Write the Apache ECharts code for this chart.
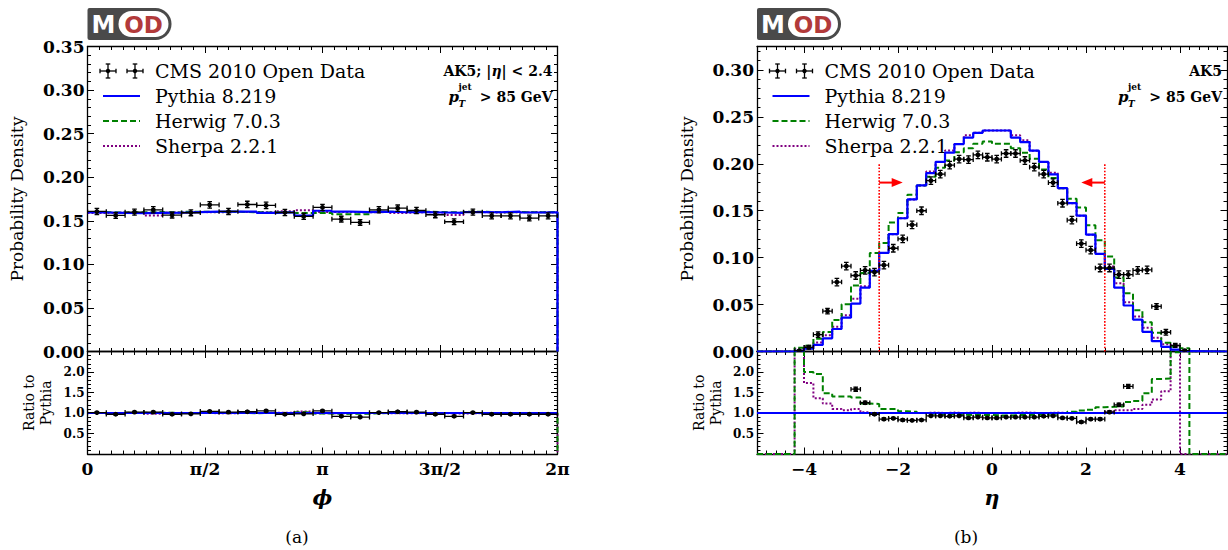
<!DOCTYPE html>
<html><head><meta charset="utf-8">
<script src="https://cdn.jsdelivr.net/npm/echarts@6/dist/echarts.min.js"></script>
<style>html,body{margin:0;padding:0;background:#fff}#c{width:1228px;height:550px}</style>
</head><body><div id="c"></div>
<script>
// ---------------- DATA ----------------
const phiTickLabels = ['0', 'π/2', 'π', '3π/2', '2π'];
const etaTickValues = [-4, -2, 0, 2, 4];

// phi distribution: 25 bins over [0, 2π]
const phiData    = [0.1607,0.1561,0.1599,0.1626,0.1565,0.1592,0.1683,0.1607,0.1687,0.1676,0.1595,0.1550,0.1653,0.1519,0.1481,0.1626,0.1645,0.1618,0.1569,0.1489,0.1599,0.1557,0.1557,0.1531,0.1557];
const phiDataErr = [0.0035,0.0033,0.0035,0.0036,0.0033,0.0034,0.0038,0.0035,0.0037,0.0037,0.0035,0.0034,0.0036,0.0033,0.0032,0.0036,0.0036,0.0035,0.0034,0.0033,0.0035,0.0034,0.0034,0.0033,0.0034];
const phiPythia  = [0.1595,0.1590,0.1588,0.1590,0.1592,0.1600,0.1605,0.1605,0.1605,0.1590,0.1598,0.1560,0.1615,0.1605,0.1600,0.1605,0.1598,0.1600,0.1595,0.1590,0.1600,0.1598,0.1605,0.1595,0.1598];
const phiHerwig  = [0.1600,0.1595,0.1598,0.1600,0.1595,0.1605,0.1600,0.1605,0.1598,0.1595,0.1600,0.1590,0.1590,0.1575,0.1575,0.1605,0.1600,0.1605,0.1600,0.1595,0.1605,0.1598,0.1600,0.1598,0.1600];
const phiSherpa  = [0.1590,0.1595,0.1590,0.1560,0.1595,0.1600,0.1598,0.1600,0.1600,0.1598,0.1610,0.1620,0.1600,0.1600,0.1598,0.1600,0.1590,0.1598,0.1595,0.1565,0.1600,0.1595,0.1598,0.1600,0.1595];
const phiRatioData   = [1.01,0.97,1.02,1.02,0.97,0.98,1.04,1.02,1.03,1.05,0.97,0.98,1.05,0.92,0.90,1.01,1.03,1.02,0.97,0.92,1.01,0.97,0.97,0.97,0.97];
const phiRatioErr    = [0.02,0.02,0.02,0.02,0.02,0.02,0.02,0.02,0.02,0.02,0.02,0.02,0.02,0.02,0.02,0.02,0.02,0.02,0.02,0.02,0.02,0.02,0.02,0.02,0.02];
const phiRatioHerwig = [1.003,1.003,1.006,1.006,1.002,1.003,0.997,1.000,0.996,1.003,1.001,1.019,0.985,0.981,0.984,1.000,1.001,1.003,1.003,1.003,1.003,1.000,0.997,1.002,1.001];
const phiRatioSherpa = [0.997,1.003,1.001,0.981,1.002,1.000,0.996,0.997,0.997,1.005,1.008,1.038,0.991,0.997,0.998,0.997,0.995,0.998,1.000,0.984,1.000,0.998,0.996,1.003,0.998];

// eta distribution: bins of width 0.2, centers below
const etaCenters = [-4.1,-3.9,-3.7,-3.5,-3.3,-3.1,-2.9,-2.7,-2.5,-2.3,-2.1,-1.9,-1.7,-1.5,-1.3,-1.1,-0.9,-0.7,-0.5,-0.3,-0.1,
                     0.1, 0.3, 0.5, 0.7, 0.9, 1.1, 1.3, 1.5, 1.7, 1.9, 2.1, 2.3, 2.5, 2.7, 2.9, 3.1, 3.3, 3.5, 3.7, 3.9, 4.1];
const etaData    = [0.0008,0.0045,0.018,0.043,0.074,0.091,0.081,0.0865,0.0845,0.092,0.110,0.120,0.135,0.150,0.182,0.189,0.1985,0.205,0.2045,0.2095,0.207,
                    0.205,0.211,0.211,0.2035,0.1965,0.189,0.180,0.158,0.140,0.115,0.108,0.089,0.089,0.082,0.082,0.0865,0.087,0.048,0.0205,0.0065,0.001];
const etaDataErr = [0.001,0.002,0.003,0.003,0.004,0.004,0.004,0.004,0.004,0.004,0.004,0.004,0.004,0.004,0.004,0.004,0.004,0.004,0.004,0.004,0.004,
                    0.004,0.004,0.004,0.004,0.004,0.004,0.004,0.004,0.004,0.004,0.004,0.004,0.004,0.004,0.004,0.004,0.004,0.003,0.003,0.002,0.001];
const etaPythia  = [0.0008,0.003,0.007,0.014,0.024,0.036,0.051,0.068,0.086,0.105,0.125,0.142,0.162,0.177,0.190,0.202,0.212,0.221,0.228,0.233,0.2355,
                    0.2355,0.2355,0.228,0.223,0.214,0.202,0.1887,0.174,0.158,0.1447,0.1245,0.104,0.088,0.068,0.049,0.034,0.021,0.011,0.005,0.002,0.0005];
const etaHerwig  = [0.004,0.006,0.0137,0.0207,0.0336,0.0504,0.0704,0.0836,0.1049,0.1155,0.1375,0.1477,0.1669,0.177,0.1862,0.1959,0.2035,0.2122,0.2166,0.2214,0.2237,
                    0.2214,0.2214,0.2166,0.2119,0.2054,0.1939,0.1849,0.174,0.1627,0.1534,0.1345,0.1186,0.1012,0.0789,0.0622,0.0439,0.0311,0.0201,0.0092,0.005,0.0035];
const etaSherpa  = [0.003,0.0052,0.0095,0.0172,0.0264,0.0385,0.0561,0.0694,0.086,0.105,0.125,0.142,0.162,0.177,0.1919,0.202,0.2141,0.221,0.2303,0.233,0.2355,
                    0.2355,0.2355,0.2303,0.2252,0.214,0.202,0.1906,0.174,0.158,0.1447,0.1245,0.104,0.0906,0.0728,0.0524,0.0374,0.0252,0.0146,0.0077,0.006,0];
const etaRatioHerwig = [3.0,2.0,1.95,1.48,1.40,1.40,1.38,1.23,1.22,1.10,1.10,1.04,1.03,1.00,0.98,0.97,0.96,0.96,0.95,0.95,0.95,
                        0.94,0.94,0.95,0.95,0.96,0.96,0.98,1.00,1.03,1.06,1.08,1.14,1.15,1.16,1.27,1.29,1.48,1.83,1.84,2.48,3.0];
const etaRatioSherpa = [3.0,1.73,1.36,1.23,1.10,1.07,1.10,1.02,1.00,1.00,1.00,1.00,1.00,1.00,1.01,1.00,1.01,1.00,1.01,1.00,1.00,
                        1.00,1.00,1.01,1.01,1.00,1.00,1.01,1.00,1.00,1.00,1.00,1.00,1.03,1.07,1.07,1.10,1.20,1.33,1.53,3.0,0];
const etaRatioData   = [null,null,null,null,null,null,1.58,1.25,0.97,0.85,0.87,0.83,0.82,0.83,0.93,0.93,0.92,0.93,0.88,0.90,0.88,
                        0.88,0.90,0.90,0.90,0.90,0.92,0.93,0.88,0.87,0.78,0.85,0.85,1.02,1.20,1.65,null,null,null,null,null,null];
const etaRatioErr    = [0,0,0,0,0,0,0.05,0.04,0.03,0.03,0.025,0.025,0.02,0.02,0.02,0.02,0.02,0.02,0.02,0.02,0.02,
                        0.02,0.02,0.02,0.02,0.02,0.02,0.02,0.02,0.02,0.025,0.025,0.03,0.03,0.04,0.05,0,0,0,0,0,0];
// cut annotations (|eta| < 2.4)
const etaCuts = [-2.4, 2.4];
const cutLineTop = 0.2;
const cutArrowY = 0.18;
const cutArrowLen = 0.5;

// ---------------- HELPERS ----------------
const SERIF = "'DejaVu Serif', 'Liberation Serif', serif";
const PI = Math.PI;
const phiEdges = Array.from({length: phiPythia.length + 1}, (_, i) => i * 2 * PI / phiPythia.length);
const phiCenters = phiEdges.slice(0, -1).map((e, i) => (e + phiEdges[i + 1]) / 2);
const phiHalf = PI / phiPythia.length;
const etaHalf = 0.1;
const etaEdges = [etaCenters[0] - etaHalf].concat(etaCenters.map(c => c + etaHalf));

function steps(edges, vals, padLo, padHi, noLeftDrop) {
  const pts = [];
  if (padLo !== undefined) pts.push([padLo, 0]);
  if (!noLeftDrop) pts.push([edges[0], 0]);
  for (let i = 0; i < vals.length; i++) {
    pts.push([edges[i], vals[i]]);
    pts.push([edges[i + 1], vals[i]]);
  }
  pts.push([edges[edges.length - 1], 0]);
  if (padHi !== undefined) pts.push([padHi, 0]);
  return pts;
}

function errItem(params, api) {
  const x = api.value(0), y = api.value(1), xe = api.value(2), ye = api.value(3);
  const c = api.coord([x, y]), l = api.coord([x - xe, y]), r = api.coord([x + xe, y]);
  const t = api.coord([x, y + ye]), b = api.coord([x, y - ye]);
  const st = {stroke: '#000', lineWidth: 1.3};
  const cap = 2.3;
  return {type: 'group', children: [
    {type: 'line', shape: {x1: l[0], y1: c[1], x2: r[0], y2: c[1]}, style: st},
    {type: 'line', shape: {x1: l[0], y1: c[1] - cap, x2: l[0], y2: c[1] + cap}, style: st},
    {type: 'line', shape: {x1: r[0], y1: c[1] - cap, x2: r[0], y2: c[1] + cap}, style: st},
    {type: 'line', shape: {x1: c[0], y1: t[1], x2: c[0], y2: b[1]}, style: st},
    {type: 'line', shape: {x1: c[0] - cap, y1: t[1], x2: c[0] + cap, y2: t[1]}, style: st},
    {type: 'line', shape: {x1: c[0] - cap, y1: b[1], x2: c[0] + cap, y2: b[1]}, style: st},
    {type: 'circle', shape: {cx: c[0], cy: c[1], r: 2.4}, style: {fill: '#000'}}
  ]};
}

function cutItem(params, api) {
  const x = api.value(0), top = api.value(1), ay = api.value(2), dx = api.value(3);
  const b = api.coord([x, 0]), t = api.coord([x, top]);
  const a0 = api.coord([x, ay]), a1 = api.coord([x + dx, ay]);
  const dir = Math.sign(a1[0] - a0[0]);
  return {type: 'group', children: [
    {type: 'line', shape: {x1: b[0], y1: b[1], x2: t[0], y2: t[1]}, style: {stroke: '#ff0000', lineWidth: 1.6, lineDash: [1.6, 1.6]}},
    {type: 'line', shape: {x1: a0[0], y1: a0[1], x2: a1[0] - dir * 8, y2: a1[1]}, style: {stroke: '#ff0000', lineWidth: 2}},
    {type: 'polygon', shape: {points: [[a1[0], a1[1]], [a1[0] - dir * 11, a1[1] - 4.5], [a1[0] - dir * 11, a1[1] + 4.5]]}, style: {fill: '#ff0000'}}
  ]};
}

function hist(xi, yi, pts, color, dash, width, z) {
  return {type: 'line', xAxisIndex: xi, yAxisIndex: yi, data: pts, symbol: 'none', showSymbol: false,
    lineStyle: {color: color, width: width, type: dash}, silent: true, animation: false, z: z, clip: true};
}
function points(xi, yi, data) {
  return {type: 'custom', xAxisIndex: xi, yAxisIndex: yi, renderItem: errItem, data: data,
    encode: {x: 0, y: 1}, clip: true, silent: true, animation: false, z: 10};
}

const tickStyle = {show: true, inside: true, length: 6.5, lineStyle: {color: '#000', width: 1}};
const minorStyle = (n) => ({show: true, splitNumber: n, length: 3.5, lineStyle: {color: '#000', width: 1}});
const lineStyle = {show: true, onZero: false, lineStyle: {color: '#000', width: 1.3}};
const labelBold = (size, extra) => Object.assign({color: '#000', fontFamily: SERIF, fontWeight: 'bold', fontSize: size}, extra || {});

function ax(base, extra) {
  return Object.assign({
    type: 'value', axisLine: lineStyle, axisTick: tickStyle, splitLine: {show: false},
    minorSplitLine: {show: false}, axisLabel: {show: false}, silent: true
  }, base, extra || {});
}

// ---------------- GRIDS & AXES ----------------
const GL = 87.5, GR = 757, GW = 470, GT = 46.5, MH = 305, RH = 102.5;
const grid = [
  {left: GL, top: GT, width: GW, height: MH, outerBoundsMode: 'none'},
  {left: GL, top: GT + MH, width: GW, height: RH, outerBoundsMode: 'none'},
  {left: GR, top: GT, width: GW, height: MH, outerBoundsMode: 'none'},
  {left: GR, top: GT + MH, width: GW, height: RH, outerBoundsMode: 'none'}
];

const phiX = {min: 0, max: 2 * PI, interval: PI / 2, minorTick: minorStyle(10)};
const etaX = {min: -5, max: 5, interval: 1, minorTick: minorStyle(5),
  axisTick: Object.assign({}, tickStyle, {customValues: etaTickValues})};
const axisTitleStyle = {fontFamily: SERIF, fontStyle: 'italic', fontWeight: 'bold', fontSize: 21, color: '#000'};

const xAxis = [
  ax(Object.assign({gridIndex: 0, position: 'bottom'}, phiX)),
  ax(Object.assign({gridIndex: 0, position: 'top'}, phiX)),
  ax(Object.assign({gridIndex: 1, position: 'bottom'}, phiX), {
    axisLabel: labelBold(17, {show: true, margin: 6,
      formatter: v => phiTickLabels[Math.round(v / (PI / 2))] || ''}),
    name: 'ϕ', nameLocation: 'middle', nameGap: 33, nameTextStyle: axisTitleStyle
  }),
  ax(Object.assign({gridIndex: 1, position: 'top'}, phiX)),
  ax(Object.assign({gridIndex: 2, position: 'bottom'}, etaX)),
  ax(Object.assign({gridIndex: 2, position: 'top'}, etaX)),
  ax(Object.assign({gridIndex: 3, position: 'bottom'}, etaX), {
    axisLabel: labelBold(17, {show: true, margin: 6, customValues: etaTickValues,
      formatter: v => (v < 0 ? '\u2212' + Math.abs(v) : String(v))}),
    name: 'η', nameLocation: 'middle', nameGap: 33, nameTextStyle: axisTitleStyle
  }),
  ax(Object.assign({gridIndex: 3, position: 'top'}, etaX))
];

const mainYPhi = {min: 0, max: 0.35, interval: 0.05, minorTick: minorStyle(5)};
const mainYEta = {min: 0, max: 0.325, interval: 0.05, minorTick: minorStyle(5)};
const ratioY = {min: 0, max: 2.5, interval: 0.5, minorTick: minorStyle(5)};
const mainLabel = labelBold(17, {show: true, margin: 3, formatter: v => v.toFixed(2), showMaxLabel: true});
const ratioLabel = labelBold(12, {show: true, margin: 3, formatter: v => v.toFixed(1), showMinLabel: false, showMaxLabel: false});
const pdName = {name: 'Probability Density', nameLocation: 'middle', nameGap: 62,
  nameTextStyle: {fontFamily: SERIF, fontSize: 17, color: '#000'}};
const rtName = {name: 'Ratio to\nPythia', nameLocation: 'middle', nameGap: 33,
  nameTextStyle: {fontFamily: SERIF, fontSize: 14, lineHeight: 17, color: '#000'}};

const yAxis = [
  ax(Object.assign({gridIndex: 0, position: 'left'}, mainYPhi), Object.assign({axisLabel: mainLabel}, pdName)),
  ax(Object.assign({gridIndex: 0, position: 'right'}, mainYPhi)),
  ax(Object.assign({gridIndex: 1, position: 'left'}, ratioY), Object.assign({axisLabel: ratioLabel}, rtName)),
  ax(Object.assign({gridIndex: 1, position: 'right'}, ratioY)),
  ax(Object.assign({gridIndex: 2, position: 'left'}, mainYEta), Object.assign({axisLabel: Object.assign({}, mainLabel, {showMaxLabel: false})}, pdName)),
  ax(Object.assign({gridIndex: 2, position: 'right'}, mainYEta)),
  ax(Object.assign({gridIndex: 3, position: 'left'}, ratioY), Object.assign({axisLabel: ratioLabel}, rtName)),
  ax(Object.assign({gridIndex: 3, position: 'right'}, ratioY))
];

// ---------------- SERIES ----------------
const BLUE = '#0000ff', GREEN = '#008000', PURPLE = '#800080';
const DASH = [6, 3], DOT = [2, 2];
const series = [
  // phi main
  hist(0, 0, steps(phiEdges, phiHerwig, undefined, undefined, true), GREEN, DASH, 2, 3),
  hist(0, 0, steps(phiEdges, phiSherpa, undefined, undefined, true), PURPLE, DOT, 2, 2),
  hist(0, 0, steps(phiEdges, phiPythia, undefined, undefined, true), BLUE, 'solid', 2.2, 4),
  points(0, 0, phiCenters.map((c, i) => [c, phiData[i], phiHalf, phiDataErr[i]])),
  // phi ratio
  hist(2, 2, steps(phiEdges, phiRatioHerwig, undefined, undefined, true), GREEN, DASH, 2, 3),
  hist(2, 2, steps(phiEdges, phiRatioSherpa, undefined, undefined, true), PURPLE, DOT, 2, 2),
  hist(2, 2, [[0, 1], [2 * PI, 1]], BLUE, 'solid', 2.2, 4),
  points(2, 2, phiCenters.map((c, i) => [c, phiRatioData[i], phiHalf, phiRatioErr[i]])),
  // eta main
  hist(4, 4, steps(etaEdges, etaHerwig, -5, 5), GREEN, DASH, 2, 3),
  hist(4, 4, steps(etaEdges, etaSherpa, -5, 5), PURPLE, DOT, 2, 2),
  hist(4, 4, steps(etaEdges, etaPythia, -5, 5), BLUE, 'solid', 2.2, 4),
  points(4, 4, etaCenters.map((c, i) => [c, etaData[i], etaHalf, etaDataErr[i]])),
  {type: 'custom', xAxisIndex: 4, yAxisIndex: 4, renderItem: cutItem, silent: true, animation: false, z: 6,
    data: etaCuts.map(c => [c, cutLineTop, cutArrowY, c < 0 ? cutArrowLen : -cutArrowLen]), encode: {x: 0, y: 1}},
  // eta ratio
  hist(6, 6, steps(etaEdges, etaRatioHerwig, -5, 5), GREEN, DASH, 2, 3),
  hist(6, 6, steps(etaEdges, etaRatioSherpa, -5, 5), PURPLE, DOT, 2, 2),
  hist(6, 6, [[-5, 1], [5, 1]], BLUE, 'solid', 2.2, 4),
  points(6, 6, etaCenters.map((c, i) => [c, etaRatioData[i], etaHalf, etaRatioErr[i]]).filter(d => d[1] !== null))
];

// ---------------- GRAPHICS (logo, legend, labels) ----------------
function logo(x) {
  return {type: 'group', x: x, y: 8, children: [
    {type: 'rect', shape: {x: 0, y: 0, width: 84, height: 32, r: [2, 16, 16, 2]}, style: {fill: '#4a4a4a'}},
    {type: 'text', x: 16, y: 17, style: {text: 'M', fill: '#fff', font: 'bold 24px "DejaVu Sans"', align: 'center', verticalAlign: 'middle'}},
    {type: 'rect', shape: {x: 31, y: 3, width: 50, height: 26, r: 13}, style: {fill: '#fff'}},
    {type: 'text', x: 56, y: 17, style: {text: 'OD', fill: '#b23a3a', font: 'bold 23px "DejaVu Sans"', align: 'center', verticalAlign: 'middle'}}
  ]};
}
function ebGlyph(cx, cy) {
  const st = {stroke: '#000', lineWidth: 1.3};
  return [
    {type: 'line', shape: {x1: cx - 8, y1: cy, x2: cx + 8, y2: cy}, style: st},
    {type: 'line', shape: {x1: cx - 8, y1: cy - 2.3, x2: cx - 8, y2: cy + 2.3}, style: st},
    {type: 'line', shape: {x1: cx + 8, y1: cy - 2.3, x2: cx + 8, y2: cy + 2.3}, style: st},
    {type: 'line', shape: {x1: cx, y1: cy - 7, x2: cx, y2: cy + 7}, style: st},
    {type: 'line', shape: {x1: cx - 2.3, y1: cy - 7, x2: cx + 2.3, y2: cy - 7}, style: st},
    {type: 'line', shape: {x1: cx - 2.3, y1: cy + 7, x2: cx + 2.3, y2: cy + 7}, style: st},
    {type: 'circle', shape: {cx: cx, cy: cy, r: 2.2}, style: {fill: '#000'}}
  ];
}
function legend(x0) {
  const txt = (t, y) => ({type: 'text', x: x0 + 67.5, y: y, style: {text: t, fill: '#000', font: '19px ' + SERIF, verticalAlign: 'middle'}});
  const samp = (y, color, dash) => ({type: 'line', shape: {x1: x0 + 15.5, y1: y, x2: x0 + 52.5, y2: y},
    style: {stroke: color, lineWidth: 2.2, lineDash: dash}});
  return [].concat(ebGlyph(x0 + 20.5, 71), ebGlyph(x0 + 47.5, 71), [
    txt('CMS 2010 Open Data', 71),
    samp(96, BLUE, null), txt('Pythia 8.219', 96),
    samp(121, GREEN, DASH), txt('Herwig 7.0.3', 121),
    samp(146, PURPLE, DOT), txt('Sherpa 2.2.1', 146)
  ]);
}
function ptText(R) {
  return [
    {type: 'text', x: R, y: 97, style: {text: '> 85 GeV', fill: '#000', font: 'bold 14px ' + SERIF, align: 'right', verticalAlign: 'middle'}},
    {type: 'text', x: R - 104, y: 97, style: {text: 'p', fill: '#000', font: 'italic bold 15px ' + SERIF, verticalAlign: 'middle'}},
    {type: 'text', x: R - 94, y: 103.5, style: {text: 'T', fill: '#000', font: 'italic bold 9px ' + SERIF, verticalAlign: 'middle'}},
    {type: 'text', x: R - 94, y: 86.5, style: {text: 'jet', fill: '#000', font: 'bold 9px ' + SERIF, verticalAlign: 'middle'}}
  ];
}
const RIGHT_PAD = 5;
const graphic = [
  logo(GL), logo(GR),
  ...legend(GL), ...legend(GR),
  {type: 'text', x: GL + GW - RIGHT_PAD, y: 71, style: {
    text: '{b|AK5; |}{i|η}{b|| < 2.4}', align: 'right', verticalAlign: 'middle',
    rich: {b: {fontFamily: SERIF, fontWeight: 'bold', fontSize: 14, fill: '#000'},
           i: {fontFamily: SERIF, fontWeight: 'bold', fontStyle: 'italic', fontSize: 14, fill: '#000'}}}},
  {type: 'text', x: GR + GW - RIGHT_PAD, y: 71, style: {text: 'AK5', fill: '#000', font: 'bold 14px ' + SERIF, align: 'right', verticalAlign: 'middle'}},
  ...ptText(GL + GW - RIGHT_PAD), ...ptText(GR + GW - RIGHT_PAD),
  {type: 'text', x: 297, y: 537, style: {text: '(a)', fill: '#000', font: '17px ' + SERIF, align: 'center', verticalAlign: 'middle'}},
  {type: 'text', x: 966, y: 537, style: {text: '(b)', fill: '#000', font: '17px ' + SERIF, align: 'center', verticalAlign: 'middle'}}
];

const chart = echarts.init(document.getElementById('c'), null, {renderer: 'svg', width: 1228, height: 550});
chart.setOption({
  animation: false,
  backgroundColor: '#fff',
  grid: grid,
  xAxis: xAxis,
  yAxis: yAxis,
  series: series,
  graphic: graphic
});
</script>
</body></html>
